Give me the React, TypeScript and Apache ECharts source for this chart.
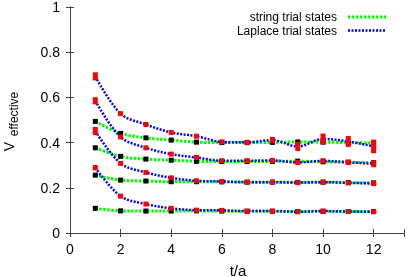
import React, { useEffect, useRef } from "react";
import * as echarts from "echarts";

const tValues = [1, 2, 3, 4, 5, 6, 7, 8, 9, 10, 11, 12];

const stringValues = [
  [0.494, 0.441, 0.421, 0.411, 0.402, 0.400, 0.400, 0.401, 0.403, 0.402, 0.400, 0.398],
  [0.377, 0.339, 0.327, 0.322, 0.317, 0.316, 0.316, 0.317, 0.318, 0.315, 0.313, 0.311],
  [0.256, 0.234, 0.230, 0.227, 0.227, 0.226, 0.225, 0.225, 0.224, 0.225, 0.223, 0.222],
  [0.109, 0.098, 0.097, 0.097, 0.098, 0.097, 0.096, 0.096, 0.095, 0.096, 0.095, 0.095],
];
const stringErrors = [
  [0.006, 0.004, 0.003, 0.003, 0.003, 0.003, 0.003, 0.003, 0.004, 0.004, 0.004, 0.004],
  [0.005, 0.003, 0.003, 0.003, 0.003, 0.003, 0.003, 0.003, 0.003, 0.003, 0.003, 0.003],
  [0.004, 0.003, 0.003, 0.003, 0.003, 0.003, 0.003, 0.003, 0.003, 0.003, 0.003, 0.003],
  [0.003, 0.002, 0.002, 0.002, 0.002, 0.002, 0.002, 0.002, 0.002, 0.002, 0.002, 0.002],
];

const laplaceValues = [
  [0.693, 0.528, 0.480, 0.445, 0.428, 0.403, 0.401, 0.411, 0.383, 0.416, 0.405, 0.383],
  [0.585, 0.425, 0.377, 0.349, 0.334, 0.320, 0.320, 0.321, 0.312, 0.319, 0.313, 0.306],
  [0.451, 0.308, 0.268, 0.244, 0.231, 0.228, 0.225, 0.225, 0.223, 0.225, 0.222, 0.219],
  [0.289, 0.163, 0.128, 0.109, 0.101, 0.100, 0.097, 0.097, 0.094, 0.097, 0.095, 0.094],
];
const laplaceErrors = [
  [0.018, 0.006, 0.004, 0.004, 0.008, 0.010, 0.010, 0.014, 0.020, 0.024, 0.024, 0.030],
  [0.016, 0.006, 0.005, 0.005, 0.006, 0.006, 0.007, 0.008, 0.010, 0.012, 0.012, 0.015],
  [0.018, 0.005, 0.004, 0.004, 0.004, 0.004, 0.005, 0.005, 0.006, 0.006, 0.006, 0.006],
  [0.012, 0.004, 0.004, 0.004, 0.004, 0.004, 0.004, 0.004, 0.004, 0.004, 0.004, 0.004],
];

const legendLabels = ["string trial states", "Laplace trial states"];
const xTitle = "t/a";
const yTitleMain = "V";
const yTitleSub = "effective";

const FONT = "Liberation Sans, Arial, Helvetica, sans-serif";
const AXIS_COLOR = "#404040";
const GREEN = "#00ff00";
const BLUE = "#0000ff";

function lineSeries(values: number[], color: string, width: number, dash: number[]) {
  return {
    type: "line",
    data: tValues.map((t, i) => [t, values[i]]),
    smooth: 0.35,
    showSymbol: false,
    symbol: "none",
    silent: true,
    lineStyle: { color, width, type: dash },
    z: 2,
  };
}

function errSeries(values: number[], errs: number[], color: string, z: number) {
  return {
    type: "custom",
    data: tValues.map((t, i) => [t, values[i], errs[i]]),
    encode: { x: 0, y: 1 },
    silent: true,
    z,
    renderItem: (_params: any, api: any) => {
      const t = api.value(0);
      const v = api.value(1);
      const e = api.value(2);
      const top = api.coord([t, v + e]);
      const bot = api.coord([t, v - e]);
      const w = 5;
      const h = Math.max(bot[1] - top[1], 5);
      const cy = (top[1] + bot[1]) / 2;
      return {
        type: "rect",
        shape: { x: top[0] - w / 2, y: cy - h / 2, width: w, height: h },
        style: { fill: color },
      };
    },
  };
}

export default function App() {
  const ref = useRef<HTMLDivElement>(null);
  useEffect(() => {
    if (!ref.current) return;
    const chart = echarts.init(ref.current, null, { renderer: "svg" });
    const series: any[] = [];
    stringValues.forEach((v) => series.push(lineSeries(v, GREEN, 3, [2.5, 1.5])));
    stringValues.forEach((v, i) => series.push(errSeries(v, stringErrors[i], "#000000", 3)));
    laplaceValues.forEach((v) => series.push(lineSeries(v, BLUE, 2.5, [2, 1.5])));
    laplaceValues.forEach((v, i) => series.push(errSeries(v, laplaceErrors[i], "#ff0000", 5)));

    const axisCommon = {
      type: "value",
      axisLine: { show: true, lineStyle: { color: AXIS_COLOR, width: 1 } },
      axisTick: { show: true, inside: true, length: 4, lineStyle: { color: AXIS_COLOR } },
      splitLine: { show: false },
    };

    chart.setOption({
      animation: false,
      grid: { left: 70, right: 2, top: 6.5, bottom: 44, containLabel: false },
      xAxis: [
        {
          ...axisCommon,
          position: "bottom",
          min: 0,
          max: 13.2,
          interval: 2,
          axisLabel: {
            show: true,
            margin: 9,
            fontSize: 14,
            fontFamily: FONT,
            color: "#000",
            formatter: (val: number) => (Math.abs(val % 2) < 1e-9 ? String(val) : ""),
          },
        },
        {
          ...axisCommon,
          position: "top",
          min: 0,
          max: 13.2,
          interval: 2,
          axisLabel: { show: false },
        },
      ],
      yAxis: [
        {
          ...axisCommon,
          position: "left",
          min: 0,
          max: 1,
          interval: 0.2,
          axisLabel: { show: true, margin: 10, fontSize: 14, fontFamily: FONT, color: "#000" },
        },
        {
          ...axisCommon,
          position: "right",
          min: 0,
          max: 1,
          interval: 0.2,
          axisLabel: { show: false },
        },
      ],
      series,
      graphic: [
        {
          type: "text",
          x: 337,
          y: 17,
          style: { text: legendLabels[0], fontSize: 12, fontFamily: FONT, fill: "#000", align: "right", verticalAlign: "middle" },
        },
        {
          type: "text",
          x: 337,
          y: 30.5,
          style: { text: legendLabels[1], fontSize: 12, fontFamily: FONT, fill: "#000", align: "right", verticalAlign: "middle" },
        },
        {
          type: "line",
          shape: { x1: 348, y1: 17, x2: 386, y2: 17 },
          style: { stroke: GREEN, lineWidth: 3, lineDash: [2.5, 1.5] },
        },
        {
          type: "line",
          shape: { x1: 348, y1: 30.5, x2: 386, y2: 30.5 },
          style: { stroke: BLUE, lineWidth: 2.5, lineDash: [2, 1.5] },
        },
        {
          type: "text",
          x: 238,
          y: 270,
          style: { text: xTitle, fontSize: 15, fontFamily: FONT, fill: "#000", align: "center", verticalAlign: "middle" },
        },
        {
          type: "text",
          x: 8.5,
          y: 146.5,
          rotation: Math.PI / 2,
          style: { text: yTitleMain, fontSize: 14, fontFamily: FONT, fill: "#000", align: "center", verticalAlign: "middle" },
        },
        {
          type: "text",
          x: 14,
          y: 114,
          rotation: Math.PI / 2,
          style: { text: yTitleSub, fontSize: 12, fontFamily: FONT, fill: "#000", align: "center", verticalAlign: "middle" },
        },
      ],
    });
    return () => chart.dispose();
  }, []);
  return <div ref={ref} style={{ position: "fixed", left: 0, top: 0, width: 407, height: 277 }} />;
}
